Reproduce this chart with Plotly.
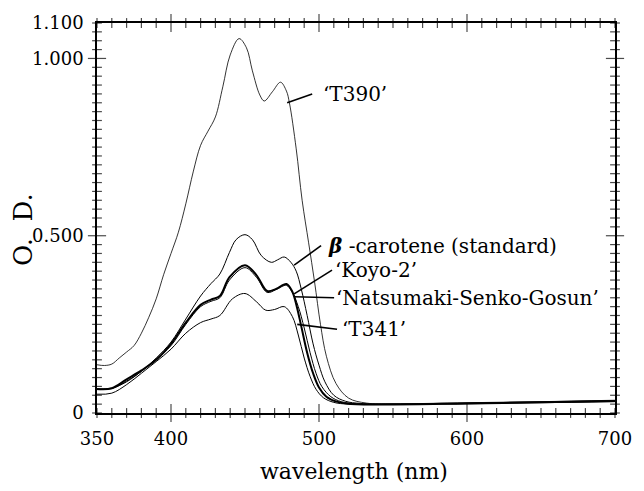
import plotly.graph_objects as go

# ---- data ----
wl_t390 = [350, 355, 360, 365, 370, 375, 380, 385, 390, 395, 400, 405, 410, 415, 420, 425, 430, 435, 440, 446,
           451, 455, 460, 463, 468.5, 474, 478, 480, 484.6, 488.6, 493, 497, 501, 505, 511.5, 520, 532,
           550, 600, 650, 700]
od_t390 = [0.136, 0.134, 0.138, 0.155, 0.172, 0.19, 0.225, 0.27, 0.322, 0.39, 0.45, 0.51, 0.59, 0.68, 0.755, 0.795,
           0.835, 0.92, 1.01, 1.056, 1.03, 0.965, 0.897, 0.88, 0.906, 0.933, 0.908, 0.875, 0.745, 0.6, 0.48,
           0.37, 0.25, 0.16, 0.083, 0.042, 0.028, 0.026, 0.029, 0.032, 0.036]

wl_beta = [350, 360, 370, 380, 390, 400, 410, 420, 427, 433, 439.5, 444, 450, 455, 461, 467.8, 472, 476.5, 481,
           484.6, 488, 492, 496, 500, 504, 510, 518, 528, 550, 600, 650, 700]
od_beta = [0.068, 0.07, 0.088, 0.118, 0.155, 0.2, 0.265, 0.33, 0.365, 0.392, 0.453, 0.489, 0.503, 0.489, 0.444,
           0.425, 0.432, 0.44, 0.425, 0.4, 0.35, 0.275, 0.195, 0.135, 0.088, 0.05, 0.033, 0.027, 0.025, 0.027,
           0.03, 0.033]

wl_koyo = [350, 360, 370, 380, 390, 400, 410, 420, 427, 433, 439.5, 450, 457.7, 465, 471, 478, 482, 485, 488,
           492, 496, 500, 505, 512, 520, 550, 600, 650, 700]
od_koyo = [0.068, 0.07, 0.095, 0.12, 0.15, 0.195, 0.255, 0.305, 0.32, 0.33, 0.383, 0.417, 0.389, 0.344, 0.35,
           0.364, 0.342, 0.3, 0.245, 0.17, 0.112, 0.072, 0.046, 0.032, 0.026, 0.024, 0.027, 0.03, 0.034]

wl_natsu = [350, 360, 370, 380, 390, 400, 410, 420, 427, 433, 439.5, 450, 457.7, 465, 471, 478, 482, 486, 490,
            494, 498, 502, 508, 515, 525, 550, 600, 650, 700]
od_natsu = [0.066, 0.069, 0.09, 0.117, 0.152, 0.19, 0.25, 0.3, 0.315, 0.325, 0.375, 0.41, 0.383, 0.34, 0.348,
            0.36, 0.34, 0.3, 0.24, 0.17, 0.112, 0.074, 0.046, 0.032, 0.026, 0.025, 0.028, 0.031, 0.035]

wl_t341 = [350, 360, 370, 380, 390, 400, 410, 420, 427, 433, 441.5, 450, 457.7, 464, 470, 476.5, 482, 486, 490,
           494, 498, 503, 510, 520, 550, 600, 650, 700]
od_t341 = [0.053, 0.056, 0.08, 0.112, 0.145, 0.18, 0.225, 0.255, 0.265, 0.275, 0.322, 0.337, 0.314, 0.29, 0.292,
           0.3, 0.272, 0.22, 0.155, 0.103, 0.067, 0.043, 0.03, 0.025, 0.024, 0.026, 0.029, 0.032]

x_tickvals = [350, 400, 500, 600, 700]
x_ticktext = ["350", "400", "500", "600", "700"]
y_tickvals = [0, 0.5, 1.0, 1.1]
y_ticktext = ["0", "0.500", "1.000", "1.100"]

# labels: text, leader start (on curve), leader end / text anchor
labels = ["‘T390’", "<b><i>β</i></b> -carotene (standard)", "‘Koyo-2’", "‘Natsumaki-Senko-Gosun’", "‘T341’"]
lead_from = [(478.5, 0.875), (483.2, 0.417), (483.2, 0.336), (483.2, 0.328), (485.3, 0.25)]
lead_to = [(495.4, 0.9), (501.4, 0.472), (508.8, 0.403), (510.2, 0.325), (512.2, 0.236)]
text_pos = [(501.4, 0.9), (504.6, 0.472), (509.3, 0.403), (510.2, 0.325), (514.5, 0.236)]

FONT = "DejaVu Serif"
XR = [350, 700]
YR = [0, 1.1]
X_MINOR_STEP = 10
Y_MINOR_STEP = 0.025

fig = go.Figure()
series = [(wl_t390, od_t390, 0.8), (wl_beta, od_beta, 1.0), (wl_natsu, od_natsu, 1.0),
          (wl_koyo, od_koyo, 2.0), (wl_t341, od_t341, 1.0)]
for xs, ys, w in series:
    fig.add_trace(go.Scatter(x=xs, y=ys, mode="lines", line=dict(color="black", width=w, shape="spline", smoothing=1.0),
                             showlegend=False, hoverinfo="skip"))

for (x0, y0), (x1, y1) in zip(lead_from, lead_to):
    fig.add_shape(type="line", x0=x0, y0=y0, x1=x1, y1=y1, xref="x", yref="y",
                  line=dict(color="black", width=1.6))

for t, (tx, ty) in zip(labels, text_pos):
    fig.add_annotation(x=tx, y=ty, xref="x", yref="y", text=t, showarrow=False,
                       xanchor="left", yanchor="middle", font=dict(family=FONT, size=20, color="black"))

# tick marks on all four sides, drawn as line markers sitting on the frame
n_x = int(round((XR[1] - XR[0]) / X_MINOR_STEP))
xt = [XR[0] + i * X_MINOR_STEP for i in range(n_x + 1)]
xt_size = [13 if v in (400, 500, 600) else 7 for v in xt]
for yb in YR:
    fig.add_trace(go.Scatter(x=xt, y=[yb] * len(xt), mode="markers", cliponaxis=False,
                             marker=dict(symbol="line-ns", size=xt_size, color="black",
                                         line=dict(color="black", width=1.2)),
                             showlegend=False, hoverinfo="skip"))
n_y = int(round((YR[1] - YR[0]) / Y_MINOR_STEP))
yt = [YR[0] + i * Y_MINOR_STEP for i in range(n_y + 1)]
yt_size = [13 if any(abs(v - m) < 1e-9 for m in (0.5, 1.0)) else 7 for v in yt]
for xb in XR:
    fig.add_trace(go.Scatter(x=[xb] * len(yt), y=yt, mode="markers", cliponaxis=False,
                             marker=dict(symbol="line-ew", size=yt_size, color="black",
                                         line=dict(color="black", width=1.2)),
                             showlegend=False, hoverinfo="skip"))

# axis titles
fig.add_annotation(x=-0.144, y=0.47, xref="paper", yref="paper", text="O.&nbsp;&nbsp;D.", textangle=-90,
                   showarrow=False, xanchor="center", yanchor="middle",
                   font=dict(family=FONT, size=26, color="black"))
fig.add_annotation(x=0.496, y=-0.113, xref="paper", yref="paper", text="wavelength (nm)",
                   showarrow=False, xanchor="center", yanchor="top",
                   font=dict(family=FONT, size=22, color="black"))

fig.update_layout(
    width=644, height=491, margin=dict(l=97, r=27, t=15, b=78),
    paper_bgcolor="white", plot_bgcolor="white", showlegend=False,
    xaxis=dict(range=XR, tickmode="array", tickvals=x_tickvals, ticktext=x_ticktext,
               showline=True, linecolor="black", linewidth=1.5, mirror=True, ticks="",
               showgrid=False, zeroline=False, ticklabelstandoff=9,
               tickfont=dict(family=FONT, size=18, color="black")),
    yaxis=dict(range=YR, tickmode="array", tickvals=y_tickvals, ticktext=y_ticktext,
               showline=True, linecolor="black", linewidth=1.5, mirror=True, ticks="",
               showgrid=False, zeroline=False, ticklabelstandoff=8,
               tickfont=dict(family=FONT, size=18, color="black")),
)

fig.write_html("out.html")
